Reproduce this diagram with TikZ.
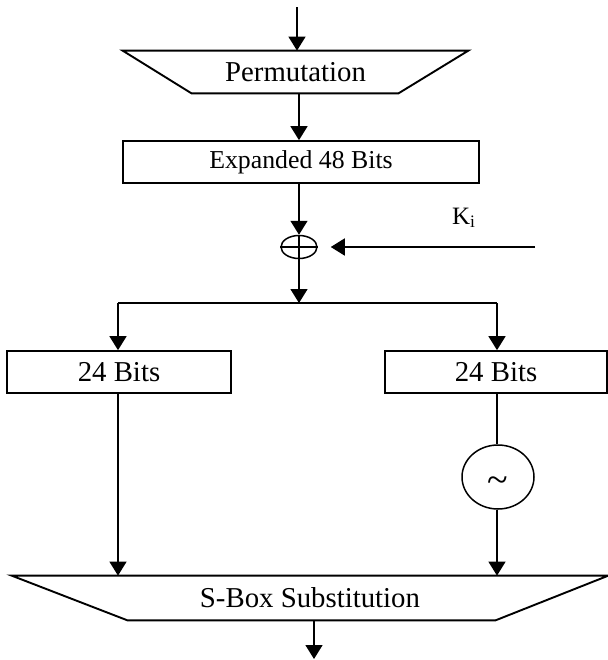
\documentclass[tikz,border=0pt]{standalone}
\usepackage{fontspec}
\setmainfont{Liberation Serif}
\usetikzlibrary{arrows.meta,shapes.geometric}
\tikzset{
  arr/.style={line width=0.75pt,-{Triangle[length=7pt,width=8.5pt]}},
  ln/.style={line width=0.75pt},
  shp/.style={line width=0.95pt},
  boxn/.style={draw,line width=0.85pt,inner sep=0pt,minimum height=21pt},
  bigtxt/.style={font=\fontsize{14.4}{17}\selectfont},
  midtxt/.style={font=\fontsize{12.9}{15}\selectfont},
}
\begin{document}
\begin{tikzpicture}[x=0.5pt,y=-0.5pt]
\useasboundingbox (0,0) rectangle (608,660);
% input
\coordinate (in) at (297,7);
% Permutation trapezoid
\node[bigtxt,inner sep=0pt,minimum width=172.5pt,minimum height=21pt] (perm) at (295.5,72) {Permutation};
\draw[shp] (perm.north west) -- (perm.north east) -- ([xshift=-35pt]perm.south east) -- ([xshift=34.5pt]perm.south west) -- cycle;
% Expanded box
\node[boxn,midtxt,minimum width=178pt] (exp) at (301,162) {Expanded 48 Bits};
% XOR
\node[draw,ellipse,line width=0.75pt,inner sep=0pt,minimum width=18pt,minimum height=11.5pt] (xor) at (299,247) {};
\draw[ln] (xor.north) -- (xor.south) (xor.west) -- (xor.east);
% key
\coordinate (kin) at (535,247);
\node[font=\fontsize{12.5}{15}\selectfont] (ki) at (464,218) {K\textsubscript{i}};
% split
\coordinate (split) at (299,303);
\coordinate (sl) at (118,303);
\coordinate (sr) at (497,303);
% 24-bit boxes
\node[boxn,bigtxt,minimum width=112pt] (lb) at (119,372) {24 Bits};
\node[boxn,bigtxt,minimum width=111pt] (rb) at (496,372) {24 Bits};
% tilde circle
\node[draw,ellipse,line width=0.75pt,inner sep=0pt,minimum width=36pt,minimum height=32pt,font=\fontsize{19}{20}\selectfont] (neg) at (498,477) {\raisebox{-0.9ex}[0pt][0pt]{\char`\~}};
% S-box trapezoid
\node[bigtxt,inner sep=0pt,minimum width=298pt,minimum height=22pt] (sbox) at (310,598) {S-Box Substitution};
\draw[shp] (sbox.north west) -- (sbox.north east) -- ([xshift=-56.5pt]sbox.south east) -- ([xshift=58pt]sbox.south west) -- cycle;
\coordinate (out) at (314,659);
% connectors
\draw[arr] (in) -- (in |- perm.north);
\draw[arr] (perm.south -| 299,0) -- (exp.north -| 299,0);
\draw[arr] (exp.south -| xor.north) -- (xor.north);
\draw[arr,shorten >=6.5pt] (kin) -- (kin -| xor.east);
\draw[arr] (xor.south) -- (split);
\draw[ln] (sl) -- (sr);
\draw[arr] (sl) -- (sl |- lb.north);
\draw[arr] (sr) -- (sr |- rb.north);
\draw[arr] (lb.south -| sl) -- (sl |- sbox.north);
\draw[ln] (rb.south -| sr) -- (sr |- neg.north);
\draw[arr] (sr |- neg.south) -- (sr |- sbox.north);
\draw[arr] (sbox.south -| out) -- (out);
\end{tikzpicture}
\end{document}
